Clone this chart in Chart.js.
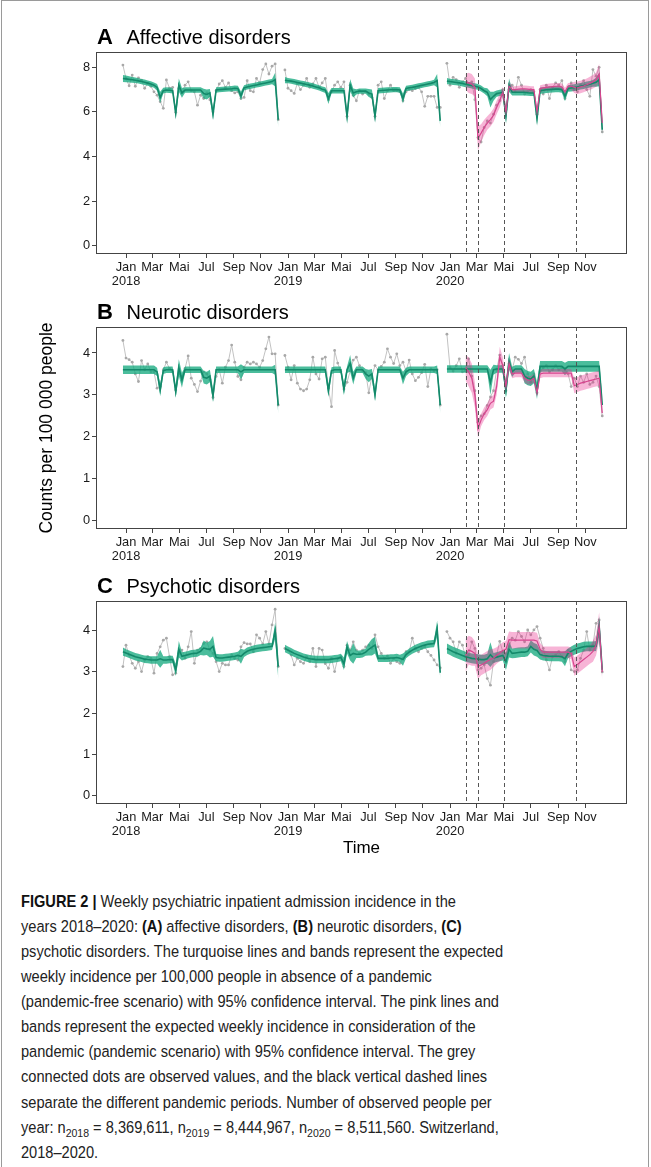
<!DOCTYPE html>
<html>
<head>
<meta charset="utf-8">
<script src="https://cdn.jsdelivr.net/npm/chart.js@4.4.1/dist/chart.umd.min.js"></script>
<style>
  body { margin: 0; background: #fff; width: 651px; height: 1167px; position: relative; overflow: hidden;
         font-family: "Liberation Sans", Arial, sans-serif; }
  #frame { position: absolute; left: 1px; top: 0; width: 648px; height: 1200px; border: 1px solid #9a9a9a; box-sizing: border-box; }
  .panel { position: absolute; left: 0; width: 651px; }
  #caption { position: absolute; left: 21px; top: 889px; font-size: 16.3px; line-height: 25.06px; color: #222;
             transform-origin: 0 0; white-space: nowrap; }
  #caption div { display: block; }
  #caption b { color: #111; }
  #caption sub { font-size: 0.72em; vertical-align: -0.3em; line-height: 0; }
</style>
</head>
<body>
<div id="frame"></div>
<div class="panel" style="top:20px;height:275px"><canvas id="cA" width="651" height="275"></canvas></div>
<div class="panel" style="top:295px;height:275px"><canvas id="cB" width="651" height="275"></canvas></div>
<div class="panel" style="top:570px;height:300px"><canvas id="cC" width="651" height="300"></canvas></div>

<div id="caption">
  <div><b>FIGURE 2 |</b> Weekly psychiatric inpatient admission incidence in the</div>
  <div>years 2018–2020: <b>(A)</b> affective disorders, <b>(B)</b> neurotic disorders, <b>(C)</b></div>
  <div id="capRef">psychotic disorders. The turquoise lines and bands represent the expected</div>
  <div>weekly incidence per 100,000 people in absence of a pandemic</div>
  <div>(pandemic-free scenario) with 95% confidence interval. The pink lines and</div>
  <div>bands represent the expected weekly incidence in consideration of the</div>
  <div>pandemic (pandemic scenario) with 95% confidence interval. The grey</div>
  <div>connected dots are observed values, and the black vertical dashed lines</div>
  <div>separate the different pandemic periods. Number of observed people per</div>
  <div>year: n<sub>2018</sub> = 8,369,611, n<sub>2019</sub> = 8,444,967, n<sub>2020</sub> = 8,511,560. Switzerland,</div>
  <div>2018–2020.</div>
</div>

<script>
// weekly series, 51 weeks per year (2018, 2019, 2020), counts per 100 000 people
// first week of each year is stamped one week before 1 January
const years = [2018, 2019, 2020];
const monthNames = ["Jan", "Mar", "Mai", "Jul", "Sep", "Nov"];
const phaseDates = ["2020-02-06", "2020-03-05", "2020-05-01", "2020-10-10"];

// A - affective disorders
const affObs = [
  8.10, 7.50, 7.17, 7.65, 7.15, 7.53, 7.42, 7.06, 7.28, 7.15, 6.90, 6.75, 6.46, 6.16, 7.43, 7.06, 7.10, 5.98, 7.05, 6.85, 7.20, 7.35, 6.95, 6.90, 6.30, 6.75, 6.60, 6.85, 6.55, 6.00, 6.95, 7.25, 7.40, 7.10, 7.30, 6.95, 6.85, 6.90, 6.60, 6.65, 7.40, 6.95, 6.90, 7.50, 7.30, 7.90, 8.15, 7.70, 8.05, 8.15, 5.65,
  7.88, 7.06, 6.95, 6.83, 7.28, 7.00, 7.20, 7.50, 7.10, 7.25, 7.50, 7.10, 7.30, 7.50, 6.55, 6.90, 7.20, 7.35, 7.10, 7.35, 5.80, 7.20, 6.75, 6.50, 6.95, 6.80, 6.90, 6.80, 6.65, 5.80, 7.20, 7.35, 6.60, 6.95, 7.20, 6.95, 6.95, 6.90, 6.50, 6.90, 7.00, 6.95, 7.05, 7.10, 6.90, 6.25, 6.70, 6.70, 6.70, 6.20, 6.20,
  8.18, 7.20, 7.55, 7.45, 7.10, 7.35, 7.50, 7.28, 7.35, 6.55, 4.85, 4.65, 5.30, 5.60, 5.50, 5.90, 6.30, 6.50, 7.00, 6.10, 7.00, 7.20, 6.90, 7.55, 7.20, 6.80, 6.90, 7.00, 6.90, 5.90, 7.00, 6.80, 7.20, 6.60, 7.10, 7.30, 7.20, 7.40, 6.60, 7.00, 7.30, 7.00, 6.90, 7.20, 7.40, 7.00, 6.70, 7.90, 7.60, 8.00, 5.10
];
const affExp = [
  7.50, 7.48, 7.46, 7.44, 7.42, 7.39, 7.36, 7.33, 7.29, 7.25, 7.20, 7.10, 6.65, 6.95, 6.98, 6.97, 6.95, 5.95, 7.20, 6.85, 6.98, 6.98, 6.98, 6.98, 6.98, 6.98, 6.82, 6.78, 6.85, 5.90, 6.98, 7.00, 7.01, 7.02, 7.03, 7.04, 7.06, 7.05, 6.72, 7.08, 7.12, 7.15, 7.18, 7.21, 7.24, 7.27, 7.30, 7.33, 7.36, 7.45, 5.65,
  7.42, 7.40, 7.38, 7.35, 7.32, 7.29, 7.26, 7.23, 7.20, 7.16, 7.12, 7.08, 7.02, 6.98, 6.60, 6.95, 6.95, 6.95, 6.95, 6.95, 5.80, 7.20, 6.85, 6.90, 6.93, 6.93, 6.93, 6.85, 6.80, 5.80, 6.95, 6.96, 6.97, 6.98, 6.99, 7.00, 7.00, 6.98, 6.60, 7.05, 7.08, 7.10, 7.13, 7.16, 7.19, 7.22, 7.25, 7.28, 7.32, 7.40, 5.60,
  7.38, 7.36, 7.34, 7.32, 7.30, 7.27, 7.24, 7.21, 7.18, 7.15, 7.12, 7.05, 6.95, 6.88, 6.55, 6.70, 6.82, 6.85, 6.88, 5.80, 7.20, 6.88, 6.88, 6.88, 6.88, 6.88, 6.86, 6.85, 6.85, 5.70, 6.95, 6.97, 6.99, 7.00, 7.01, 7.02, 7.02, 7.00, 6.70, 7.05, 7.07, 7.09, 7.12, 7.15, 7.18, 7.21, 7.24, 7.28, 7.33, 7.45, 5.20
];
const affCI = [
  0.16, 0.15, 0.14, 0.13, 0.12, 0.12, 0.12, 0.12, 0.12, 0.12, 0.12, 0.15, 0.25, 0.13, 0.12, 0.12, 0.12, 0.25, 0.30, 0.22, 0.12, 0.12, 0.12, 0.12, 0.12, 0.12, 0.22, 0.22, 0.18, 0.25, 0.12, 0.12, 0.12, 0.12, 0.12, 0.12, 0.12, 0.12, 0.20, 0.12, 0.12, 0.12, 0.12, 0.12, 0.12, 0.12, 0.12, 0.12, 0.12, 0.30, 0.35,
  0.14, 0.12, 0.12, 0.12, 0.12, 0.12, 0.12, 0.12, 0.12, 0.12, 0.12, 0.12, 0.12, 0.13, 0.25, 0.12, 0.12, 0.12, 0.12, 0.12, 0.25, 0.28, 0.20, 0.12, 0.12, 0.12, 0.12, 0.18, 0.20, 0.25, 0.12, 0.12, 0.12, 0.12, 0.12, 0.12, 0.12, 0.12, 0.22, 0.12, 0.12, 0.12, 0.12, 0.12, 0.12, 0.12, 0.12, 0.12, 0.12, 0.30, 0.30,
  0.14, 0.13, 0.13, 0.13, 0.13, 0.13, 0.13, 0.13, 0.13, 0.13, 0.13, 0.13, 0.13, 0.18, 0.35, 0.20, 0.14, 0.14, 0.14, 0.25, 0.30, 0.14, 0.14, 0.14, 0.14, 0.14, 0.14, 0.14, 0.14, 0.25, 0.14, 0.14, 0.14, 0.14, 0.14, 0.14, 0.14, 0.14, 0.22, 0.15, 0.15, 0.15, 0.15, 0.15, 0.15, 0.15, 0.15, 0.15, 0.20, 0.30, 0.30
];
// pandemic scenario, 2020 only
const affPan = [null, null, null, null, null, null,
  7.35, 7.30, 7.25, 7.10, 4.82, 5.05, 5.30, 5.50, 5.65, 5.85, 6.20, 6.50, 6.88, 6.00, 7.15, 7.00, 7.00, 7.02, 7.03, 7.03, 7.02, 7.00, 7.00, 6.00, 7.05, 7.08, 7.10, 7.12, 7.13, 7.15, 7.15, 7.12, 6.90, 7.15, 7.15, 7.10, 7.08, 7.12, 7.16, 7.22, 7.28, 7.35, 7.45, 7.70, 5.50];
const affPanCI = [null, null, null, null, null, null,
  0.35, 0.45, 0.45, 0.40, 0.55, 0.40, 0.35, 0.30, 0.30, 0.30, 0.30, 0.30, 0.25, 0.25, 0.20, 0.15, 0.15, 0.15, 0.15, 0.15, 0.15, 0.15, 0.15, 0.20, 0.15, 0.15, 0.15, 0.15, 0.15, 0.15, 0.15, 0.15, 0.18, 0.15, 0.15, 0.25, 0.28, 0.28, 0.28, 0.28, 0.30, 0.30, 0.32, 0.45, 0.40];

// B - neurotic disorders
const neuObs = [
  4.30, 3.88, 3.84, 3.78, 3.50, 3.32, 3.82, 3.60, 3.74, 3.55, 3.55, 3.16, 3.20, 3.60, 3.78, 3.63, 3.55, 3.12, 3.50, 3.44, 3.63, 3.93, 3.40, 3.25, 3.08, 3.33, 3.55, 3.50, 3.36, 2.94, 3.44, 3.60, 3.28, 3.66, 3.82, 4.19, 3.78, 3.44, 3.36, 3.66, 3.78, 3.74, 3.78, 3.74, 3.66, 3.82, 4.10, 4.38, 3.98, 3.98, 2.76,
  3.94, 3.66, 3.36, 3.70, 3.28, 3.14, 3.10, 3.14, 3.36, 3.90, 3.50, 3.38, 3.86, 3.90, 3.16, 2.72, 4.06, 3.76, 3.55, 3.14, 3.30, 3.57, 3.83, 3.90, 3.70, 3.57, 3.53, 3.05, 3.45, 3.70, 3.60, 3.68, 3.78, 4.10, 3.90, 3.75, 3.98, 3.70, 3.78, 3.57, 3.83, 3.50, 3.34, 3.42, 3.53, 3.73, 3.20, 3.62, 3.57, 3.60, 2.76,
  4.45, 3.65, 3.57, 3.70, 3.86, 3.55, 3.57, 3.86, 3.45, 3.10, 2.35, 2.50, 2.55, 2.75, 2.95, 3.10, 3.60, 3.95, 3.70, 3.10, 3.75, 3.60, 3.90, 3.85, 3.75, 3.90, 3.50, 3.30, 3.50, 3.05, 3.55, 3.65, 3.70, 3.55, 3.60, 3.70, 3.60, 3.65, 3.60, 3.50, 3.20, 3.40, 3.20, 3.45, 3.30, 3.50, 3.25, 3.30, 3.45, 3.20, 2.50
];
const neuExp = [
  3.60, 3.60, 3.60, 3.60, 3.60, 3.60, 3.60, 3.60, 3.60, 3.60, 3.60, 3.55, 3.12, 3.58, 3.60, 3.60, 3.60, 3.08, 3.65, 3.35, 3.60, 3.60, 3.60, 3.60, 3.60, 3.60, 3.42, 3.40, 3.45, 2.98, 3.60, 3.60, 3.60, 3.60, 3.60, 3.60, 3.60, 3.60, 3.55, 3.60, 3.60, 3.60, 3.60, 3.60, 3.60, 3.60, 3.60, 3.60, 3.60, 3.60, 2.75,
  3.60, 3.60, 3.60, 3.60, 3.60, 3.60, 3.60, 3.60, 3.60, 3.60, 3.60, 3.60, 3.60, 3.60, 3.10, 3.58, 3.60, 3.60, 3.60, 3.14, 3.60, 3.75, 3.40, 3.60, 3.60, 3.60, 3.50, 3.45, 3.50, 3.00, 3.60, 3.60, 3.60, 3.60, 3.60, 3.60, 3.60, 3.60, 3.40, 3.55, 3.60, 3.60, 3.60, 3.60, 3.60, 3.60, 3.60, 3.60, 3.60, 3.60, 2.76,
  3.62, 3.62, 3.62, 3.62, 3.62, 3.62, 3.62, 3.62, 3.62, 3.62, 3.62, 3.62, 3.62, 3.62, 3.30, 3.60, 3.62, 3.62, 3.62, 3.12, 3.80, 3.55, 3.62, 3.62, 3.62, 3.45, 3.40, 3.38, 3.45, 3.10, 3.68, 3.68, 3.68, 3.68, 3.68, 3.68, 3.68, 3.68, 3.62, 3.68, 3.68, 3.68, 3.68, 3.68, 3.68, 3.68, 3.68, 3.68, 3.68, 3.68, 2.76
];
const neuCI = [
  0.10, 0.10, 0.10, 0.10, 0.10, 0.10, 0.10, 0.10, 0.10, 0.10, 0.10, 0.10, 0.15, 0.08, 0.08, 0.08, 0.08, 0.15, 0.20, 0.18, 0.08, 0.08, 0.08, 0.08, 0.08, 0.08, 0.15, 0.15, 0.15, 0.15, 0.08, 0.08, 0.08, 0.08, 0.08, 0.08, 0.08, 0.08, 0.18, 0.08, 0.08, 0.08, 0.08, 0.08, 0.08, 0.08, 0.08, 0.08, 0.08, 0.12, 0.20,
  0.08, 0.08, 0.08, 0.08, 0.08, 0.08, 0.08, 0.08, 0.08, 0.08, 0.08, 0.08, 0.08, 0.08, 0.15, 0.08, 0.08, 0.08, 0.08, 0.15, 0.08, 0.20, 0.15, 0.08, 0.08, 0.08, 0.12, 0.15, 0.12, 0.15, 0.08, 0.08, 0.08, 0.08, 0.08, 0.08, 0.08, 0.08, 0.15, 0.10, 0.08, 0.08, 0.08, 0.08, 0.08, 0.08, 0.08, 0.08, 0.08, 0.10, 0.20,
  0.09, 0.09, 0.09, 0.09, 0.09, 0.09, 0.09, 0.09, 0.09, 0.09, 0.09, 0.09, 0.09, 0.09, 0.30, 0.12, 0.09, 0.09, 0.09, 0.20, 0.20, 0.12, 0.09, 0.09, 0.09, 0.17, 0.17, 0.17, 0.17, 0.20, 0.13, 0.13, 0.13, 0.13, 0.13, 0.13, 0.13, 0.13, 0.15, 0.13, 0.13, 0.13, 0.13, 0.13, 0.13, 0.13, 0.13, 0.13, 0.13, 0.13, 0.20
];
const neuPan = [null, null, null, null, null, null,
  3.65, 3.55, 3.40, 3.00, 2.20, 2.40, 2.55, 2.65, 2.80, 2.85, 3.20, 3.90, 3.70, 3.20, 3.75, 3.50, 3.52, 3.52, 3.52, 3.40, 3.35, 3.35, 3.40, 3.05, 3.50, 3.52, 3.52, 3.52, 3.52, 3.52, 3.52, 3.52, 3.52, 3.52, 3.52, 3.22, 3.25, 3.28, 3.30, 3.32, 3.34, 3.36, 3.38, 3.40, 2.57];
const neuPanCI = [null, null, null, null, null, null,
  0.30, 0.35, 0.35, 0.30, 0.22, 0.15, 0.15, 0.15, 0.15, 0.15, 0.20, 0.25, 0.20, 0.15, 0.15, 0.10, 0.10, 0.10, 0.10, 0.10, 0.10, 0.10, 0.10, 0.10, 0.10, 0.10, 0.10, 0.10, 0.10, 0.10, 0.10, 0.10, 0.10, 0.10, 0.10, 0.18, 0.18, 0.18, 0.18, 0.18, 0.18, 0.18, 0.18, 0.18, 0.15];

// C - psychotic disorders
const psyObs = [
  3.13, 3.65, 3.41, 3.21, 3.09, 3.25, 3.01, 3.29, 3.37, 3.33, 2.97, 3.45, 3.61, 3.77, 3.82, 3.37, 2.93, 2.97, 3.45, 3.53, 3.33, 3.61, 3.98, 3.21, 3.53, 3.57, 3.69, 3.73, 3.53, 3.45, 3.25, 3.01, 3.21, 3.17, 3.17, 3.41, 3.33, 3.29, 3.61, 3.71, 3.68, 3.68, 3.49, 3.90, 3.82, 3.68, 3.98, 3.68, 4.14, 4.52, 3.13,
  3.57, 3.53, 3.41, 3.17, 3.33, 3.25, 3.21, 3.37, 3.25, 3.57, 3.13, 3.57, 3.53, 3.20, 3.09, 3.33, 3.01, 3.33, 3.37, 3.13, 3.65, 3.53, 3.73, 3.53, 3.45, 3.53, 3.61, 3.65, 3.57, 3.90, 3.61, 3.45, 3.33, 3.39, 3.21, 3.33, 3.25, 3.21, 3.33, 3.49, 3.49, 3.82, 3.57, 3.49, 3.57, 3.61, 3.49, 3.40, 3.29, 3.17, 3.10,
  3.98, 3.82, 3.73, 3.45, 3.73, 3.65, 3.37, 3.41, 3.73, 3.57, 3.05, 3.09, 3.17, 2.84, 2.68, 3.25, 3.41, 3.74, 3.49, 3.45, 3.61, 3.82, 3.77, 3.98, 3.86, 3.73, 4.02, 3.90, 4.02, 4.10, 3.82, 3.57, 3.29, 3.05, 3.37, 3.41, 3.49, 3.37, 3.25, 3.53, 3.05, 3.01, 3.05, 3.33, 3.53, 3.98, 3.53, 3.65, 4.18, 4.26, 3.00
];
const psyExp = [
  3.49, 3.46, 3.43, 3.40, 3.37, 3.35, 3.33, 3.31, 3.30, 3.29, 3.29, 3.29, 3.32, 3.29, 3.29, 3.30, 3.30, 3.05, 3.55, 3.38, 3.40, 3.42, 3.44, 3.45, 3.46, 3.50, 3.58, 3.56, 3.55, 3.62, 3.35, 3.34, 3.34, 3.35, 3.36, 3.37, 3.38, 3.40, 3.38, 3.45, 3.50, 3.53, 3.55, 3.57, 3.58, 3.59, 3.60, 3.61, 3.62, 4.00, 3.13,
  3.57, 3.53, 3.49, 3.45, 3.42, 3.39, 3.36, 3.34, 3.32, 3.31, 3.30, 3.30, 3.30, 3.30, 3.30, 3.31, 3.32, 3.33, 3.35, 3.20, 3.60, 3.40, 3.45, 3.43, 3.43, 3.44, 3.48, 3.55, 3.60, 3.65, 3.33, 3.33, 3.33, 3.33, 3.34, 3.34, 3.35, 3.33, 3.30, 3.42, 3.48, 3.53, 3.57, 3.60, 3.63, 3.65, 3.67, 3.68, 3.69, 4.05, 2.98,
  3.57, 3.53, 3.49, 3.46, 3.43, 3.40, 3.37, 3.35, 3.33, 3.32, 3.31, 3.30, 3.30, 3.32, 3.42, 3.34, 3.36, 3.38, 3.40, 3.25, 3.55, 3.45, 3.46, 3.47, 3.48, 3.48, 3.50, 3.62, 3.55, 3.52, 3.42, 3.40, 3.39, 3.38, 3.38, 3.38, 3.38, 3.37, 3.32, 3.45, 3.50, 3.54, 3.57, 3.59, 3.61, 3.62, 3.62, 3.62, 3.63, 4.10, 3.05
];
const psyCI = [
  0.10, 0.09, 0.09, 0.09, 0.09, 0.09, 0.09, 0.09, 0.09, 0.09, 0.09, 0.09, 0.22, 0.09, 0.09, 0.09, 0.09, 0.15, 0.20, 0.10, 0.09, 0.09, 0.09, 0.09, 0.09, 0.09, 0.18, 0.15, 0.20, 0.25, 0.09, 0.09, 0.09, 0.09, 0.09, 0.09, 0.09, 0.09, 0.18, 0.09, 0.09, 0.09, 0.09, 0.09, 0.09, 0.09, 0.09, 0.09, 0.09, 0.20, 0.30,
  0.09, 0.09, 0.09, 0.09, 0.09, 0.09, 0.09, 0.09, 0.09, 0.09, 0.09, 0.09, 0.09, 0.09, 0.09, 0.09, 0.09, 0.09, 0.09, 0.15, 0.15, 0.12, 0.25, 0.09, 0.09, 0.09, 0.09, 0.15, 0.20, 0.20, 0.09, 0.09, 0.09, 0.09, 0.09, 0.09, 0.09, 0.09, 0.15, 0.09, 0.09, 0.09, 0.09, 0.09, 0.09, 0.09, 0.09, 0.09, 0.09, 0.20, 0.15,
  0.12, 0.12, 0.12, 0.12, 0.12, 0.12, 0.12, 0.12, 0.12, 0.12, 0.12, 0.12, 0.12, 0.12, 0.30, 0.12, 0.12, 0.12, 0.12, 0.20, 0.20, 0.12, 0.12, 0.12, 0.12, 0.12, 0.12, 0.15, 0.15, 0.15, 0.12, 0.12, 0.12, 0.12, 0.12, 0.12, 0.12, 0.12, 0.18, 0.12, 0.12, 0.12, 0.12, 0.12, 0.12, 0.12, 0.12, 0.12, 0.12, 0.25, 0.15
];
const psyPan = [null, null, null, null, null, null,
  3.40, 3.53, 3.50, 3.45, 3.13, 3.17, 3.21, 3.26, 3.30, 3.34, 3.40, 3.46, 3.52, 3.55, 3.78, 3.77, 3.77, 3.77, 3.77, 3.77, 3.77, 3.77, 3.77, 3.75, 3.55, 3.48, 3.48, 3.48, 3.48, 3.48, 3.48, 3.48, 3.48, 3.48, 3.45, 3.13, 3.18, 3.24, 3.30, 3.36, 3.42, 3.50, 3.65, 4.10, 3.00];
const psyPanCI = [null, null, null, null, null, null,
  0.40, 0.35, 0.35, 0.30, 0.30, 0.25, 0.25, 0.25, 0.25, 0.22, 0.20, 0.20, 0.20, 0.20, 0.20, 0.20, 0.20, 0.20, 0.20, 0.20, 0.20, 0.20, 0.20, 0.20, 0.15, 0.14, 0.14, 0.14, 0.14, 0.14, 0.14, 0.14, 0.14, 0.14, 0.14, 0.22, 0.22, 0.22, 0.22, 0.22, 0.22, 0.25, 0.25, 0.35, 0.20];

const FONT = '"Liberation Sans", Arial, sans-serif';
const TURQ_BAND = "rgba(24,170,128,0.78)";
const TURQ_LINE = "#13896a";
const PINK_BAND = "rgba(231,41,138,0.35)";
const PINK_LINE = "#d6458e";

const DAY = 86400000;
const base = Date.UTC(2018, 0, 1);
const toWeek = t => (t - base) / (7 * DAY);

const monthTicks = [];
years.forEach(y => monthNames.forEach((m, i) => {
  monthTicks.push({ value: toWeek(Date.UTC(y, i * 2, 1)), label: i === 0 ? [m, String(y)] : m });
}));
const phaseX = phaseDates.map(d => toWeek(Date.parse(d)));

function pts(xs, vals) { return vals.map((v, k) => ({ x: xs[k], y: v })); }

function bandSets(xs, mean, ci, fillColor, order) {
  return [
    { data: pts(xs, mean.map((v, k) => v + ci[k])), borderColor: "rgba(0,0,0,0)", borderWidth: 1, pointRadius: 0, fill: false, order },
    { data: pts(xs, mean.map((v, k) => v - ci[k])), borderColor: "rgba(0,0,0,0)", borderWidth: 1, pointRadius: 0, fill: "-1", backgroundColor: fillColor, order }
  ];
}

const decor = {
  id: "decor",
  afterDatasetsDraw(chart, args, opts) {
    const { ctx, chartArea: a, scales: { x } } = chart;
    ctx.save();
    ctx.strokeStyle = "#555";
    ctx.lineWidth = 1;
    ctx.setLineDash([4, 3]);
    phaseX.forEach(v => {
      const px = Math.round(x.getPixelForValue(v)) + 0.5;
      ctx.beginPath(); ctx.moveTo(px, a.top); ctx.lineTo(px, a.bottom); ctx.stroke();
    });
    ctx.restore();
  },
  afterDraw(chart, args, opts) {
    const { ctx, chartArea: a } = chart;
    ctx.save();
    ctx.strokeStyle = "#444";
    ctx.lineWidth = 1;
    ctx.strokeRect(a.left + 0.5, a.top + 0.5, a.right - a.left - 1, a.bottom - a.top - 1);
    ctx.fillStyle = "#000";
    ctx.textBaseline = "alphabetic";
    ctx.font = "bold 22px " + FONT;
    ctx.fillText(opts.letter, 97, a.top - 8);
    ctx.font = "20px " + FONT;
    ctx.fillText(opts.title, 126.5, a.top - 8);
    ctx.restore();
  }
};

function makePanel(p) {
  [p.obs, p.exp, p.ci].forEach(arr => { if (arr.length !== 153) throw new Error(p.letter + " length " + arr.length); });
  [p.pan, p.panCI].forEach(arr => { if (arr.length !== 51) throw new Error(p.letter + " pan length " + arr.length); });

  const datasets = [];
  years.forEach((y, yi) => {
    const start = toWeek(Date.UTC(y, 0, 1)) - 1;
    const xs = [];
    for (let k = 0; k < 51; k++) xs.push(start + k);
    const seg = arr => arr.slice(yi * 51, yi * 51 + 51);
    datasets.push({ data: pts(xs, seg(p.obs)), borderColor: "#c2c2c2", borderWidth: 1, pointRadius: 1.4,
                    pointBackgroundColor: "#a8a8a8", pointBorderWidth: 0, order: 6 });
    datasets.push(...bandSets(xs, seg(p.exp), seg(p.ci), TURQ_BAND, 5));
    datasets.push({ data: pts(xs, seg(p.exp)), borderColor: TURQ_LINE, borderWidth: 1.6, pointRadius: 0, order: 3 });
    if (y === 2020) {
      const ks = [];
      p.pan.forEach((v, k) => { if (v !== null) ks.push(k); });
      const px = ks.map(k => xs[k]);
      const pm = ks.map(k => p.pan[k]);
      const pc = ks.map(k => p.panCI[k]);
      datasets.push(...bandSets(px, pm, pc, PINK_BAND, 4));
      datasets.push({ data: pts(px, pm), borderColor: PINK_LINE, borderWidth: 1.2, pointRadius: 0, order: 2 });
    }
  });

  const tickFont = { family: FONT, size: 12.8, lineHeight: 1.13 };
  return new Chart(document.getElementById(p.id), {
    type: "line",
    data: { datasets },
    plugins: [decor],
    options: {
      responsive: false, animation: false, devicePixelRatio: 1, events: [],
      layout: { padding: { top: p.padTop, right: 24, left: 0, bottom: 0 } },
      plugins: { legend: { display: false }, tooltip: { enabled: false }, decor: { letter: p.letter, title: p.title } },
      elements: { line: { tension: 0 } },
      scales: {
        x: {
          type: "linear", min: -9.66, max: 161.25,
          afterBuildTicks: s => { s.ticks = monthTicks.map(t => ({ value: t.value })); },
          afterFit: s => { s.height = p.xH; },
          ticks: { autoSkip: false, maxRotation: 0, padding: 2, color: "#1a1a1a", font: tickFont,
                   callback: (v, i) => monthTicks[i].label },
          grid: { drawOnChartArea: false, drawTicks: true, tickLength: 4, color: "#444" },
          border: { display: false },
          title: p.xTitle ? { display: true, text: p.xTitle, color: "#000", font: { family: FONT, size: 17 }, padding: { top: 0, bottom: 11 } } : { display: false }
        },
        y: {
          type: "linear", min: p.yMin, max: p.yMax,
          afterBuildTicks: s => { s.ticks = p.yTicks.map(v => ({ value: v })); },
          afterFit: s => { s.width = 96; },
          ticks: { autoSkip: false, padding: 2, color: "#1a1a1a", font: tickFont, callback: v => String(v) },
          grid: { drawOnChartArea: false, drawTicks: true, tickLength: 4, color: "#444" },
          border: { display: false },
          title: p.yTitle ? { display: true, text: p.yTitle, color: "#000", font: { family: FONT, size: 17.5 }, padding: { top: 37, bottom: 0 } } : { display: false }
        }
      }
    }
  });
}

makePanel({ id: "cA", letter: "A", title: "Affective disorders", obs: affObs, exp: affExp, ci: affCI, pan: affPan, panCI: affPanCI,
            yTicks: [0, 2, 4, 6, 8], yMin: -0.372, yMax: 8.686, padTop: 32, xH: 41 });
makePanel({ id: "cB", letter: "B", title: "Neurotic disorders", obs: neuObs, exp: neuExp, ci: neuCI, pan: neuPan, panCI: neuPanCI,
            yTicks: [0, 1, 2, 3, 4], yMin: -0.198, yMax: 4.62, padTop: 32, xH: 41, yTitle: "Counts per 100 000 people" });
makePanel({ id: "cC", letter: "C", title: "Psychotic disorders", obs: psyObs, exp: psyExp, ci: psyCI, pan: psyPan, panCI: psyPanCI,
            yTicks: [0, 1, 2, 3, 4], yMin: -0.201, yMax: 4.72, padTop: 31, xH: 66, xTitle: "Time" });

// fit the caption to the width of the printed column
const cap = document.getElementById("caption");
const refW = document.getElementById("capRef").getBoundingClientRect().width;
cap.style.transform = "scaleX(" + (482 / refW).toFixed(4) + ")";
</script>
</body>
</html>
